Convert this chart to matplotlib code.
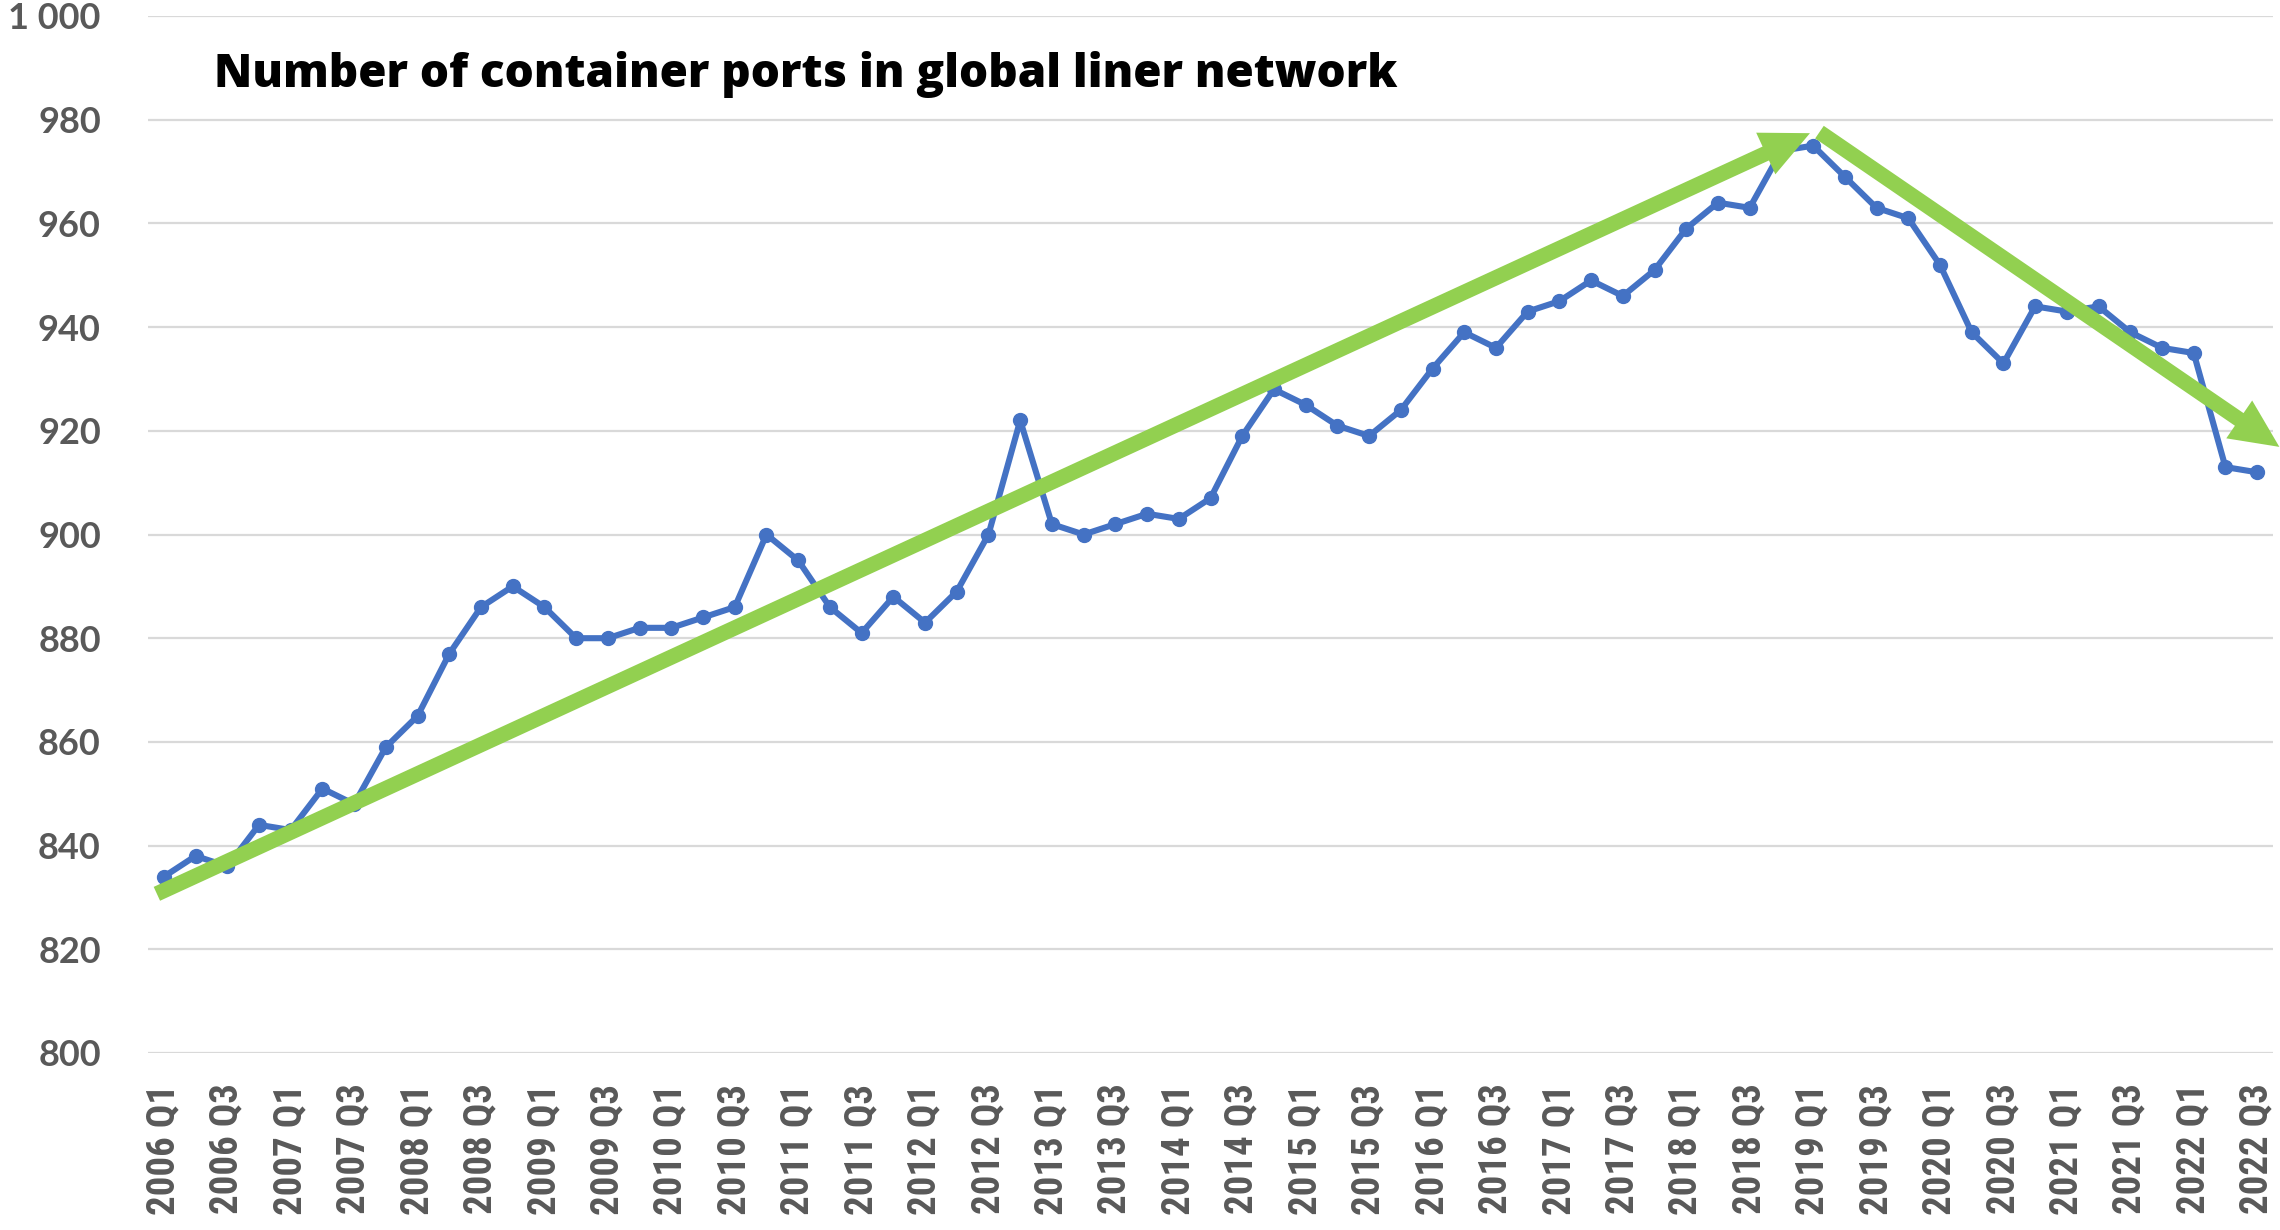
import matplotlib
matplotlib.use("Agg")
import matplotlib.pyplot as plt
from matplotlib import font_manager

# quarterly categories 2006 Q1 .. 2022 Q3
quarters = [f"{y} Q{q}" for y in range(2006, 2023) for q in range(1, 5)][:67]

ports = [
    834, 838, 836, 844, 843, 851, 848, 859,
    865, 877, 886, 890, 886, 880, 880, 882,
    882, 884, 886, 900, 895, 886, 881, 888,
    883, 889, 900, 922, 902, 900, 902, 904,
    903, 907, 919, 928, 925, 921, 919, 924,
    932, 939, 936, 943, 945, 949, 946, 951,
    959, 964, 963, 974, 975, 969, 963, 961,
    952, 939, 933, 944, 943, 944, 939, 936,
    935, 913, 912,
]

y_ticks = [800, 820, 840, 860, 880, 900, 920, 940, 960, 980, 1000]
y_labels = ["800", "820", "840", "860", "880", "900", "920", "940", "960", "980", "1 000"]

# trend arrows: (tail, head) in (category index, value)
rise_arrow = ((-0.22, 830.7), (51.9, 977.4))
fall_arrow = ((52.2, 977.6), (66.7, 916.9))

title = "Number of container ports in global liner network"

blue = "#4472C4"
green = "#92D050"
grey = "#595959"


def have_font(name):
    try:
        font_manager.findfont(font_manager.FontProperties(family=name), fallback_to_default=False)
        return True
    except ValueError:
        return False


# narrow face for the rotated quarter labels if there is one
xlab_font, xlab_size = "Lato", 22
for name in ("Roboto Condensed", "Liberation Sans Narrow", "Open Sans Condensed"):
    if have_font(name):
        xlab_font, xlab_size = name, 28
        break

fig = plt.figure(figsize=(22.8, 12.3), dpi=100)
ax = fig.add_axes([148 / 2280, 1 - 1053 / 1230, 2125 / 2280, 1037 / 1230])

x = list(range(len(ports)))
ax.plot(x, ports, color=blue, lw=4.4, marker="o", ms=10, zorder=3)

for (tail, head) in (rise_arrow, fall_arrow):
    ax.annotate(
        "", xy=head, xytext=tail, annotation_clip=False,
        arrowprops=dict(width=11, headwidth=33, headlength=35, shrink=0,
                        facecolor=green, edgecolor="none"),
        zorder=4,
    )

ax.set_xlim(-0.5, len(ports) - 0.5)
ax.set_ylim(800, 1000)
ax.set_yticks(y_ticks)
ax.set_yticklabels(y_labels, fontfamily="Lato", fontweight="bold", fontsize=26, color=grey)
ax.set_xticks(x[::2])
ax.set_xticklabels(quarters[::2], rotation=90, fontfamily=xlab_font,
                   fontweight="bold", fontsize=xlab_size, color=grey)
ax.tick_params(axis="y", length=0, pad=34)
ax.tick_params(axis="x", length=0, pad=22)
ax.grid(axis="y", color="#D9D9D9", lw=1.6)
ax.set_axisbelow(True)
for s in ax.spines.values():
    s.set_visible(False)

fig.text(214 / 2280, 1 - 74 / 1230, title, fontfamily="Open Sans", fontweight="heavy",
         fontsize=33, color="black", va="center", ha="left")

fig.savefig("out.png", dpi=100)
